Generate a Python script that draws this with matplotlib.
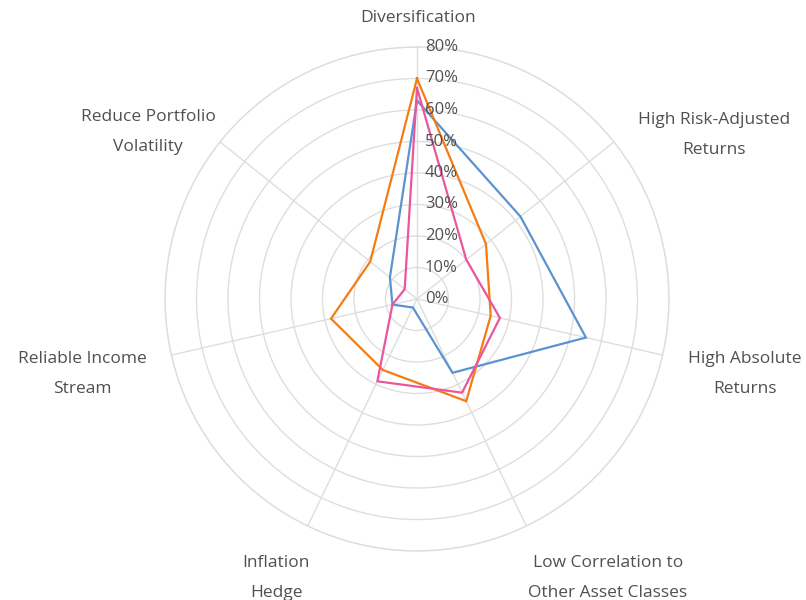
import numpy as np
import matplotlib
matplotlib.use("Agg")
import matplotlib.pyplot as plt
import matplotlib.transforms as mtransforms

categories = ["Diversification", "High Risk-Adjusted\nReturns", "High Absolute\nReturns",
              "Low Correlation to\nOther Asset Classes", "Inflation\nHedge",
              "Reliable Income\nStream", "Reduce Portfolio\nVolatility"]
series_blue = [63, 42, 55, 26, 3, 8, 11]
series_orange = [70, 28, 24, 36, 25, 28, 19]
series_pink = [67, 20, 27, 33, 29, 8, 5]
tick_values = [0, 10, 20, 30, 40, 50, 60, 70, 80]
tick_labels = [f"{v}%" for v in tick_values]

colors = {"blue": "#5b93d0", "orange": "#f57c12", "pink": "#e9569c"}
grid_color = "#dedede"
text_color = "#505050"
FONT = "Open Sans"

W, H = 806, 600
fig = plt.figure(figsize=(W / 100, H / 100), dpi=100)
cx, cy, R = 417, 299, 252
ax = fig.add_axes([(cx - R) / W, (H - cy - R) / H, 2 * R / W, 2 * R / H], projection="polar")
ax.set_theta_offset(np.pi / 2)
ax.set_theta_direction(-1)

n = len(categories)
angles = np.arange(n) * 2 * np.pi / n

ax.set_ylim(0, 80)
ax.set_yticks(tick_values[1:])
ax.set_yticklabels([])
ax.set_xticks(angles)
ax.set_xticklabels([])
ax.grid(True, color=grid_color, linewidth=1.0)
ax.spines["polar"].set_color(grid_color)
ax.spines["polar"].set_linewidth(1.0)
ax.tick_params(length=0)

closed = np.concatenate([angles, angles[:1]])
for vals, c in [(series_blue, colors["blue"]), (series_orange, colors["orange"]), (series_pink, colors["pink"])]:
    v = np.concatenate([vals, vals[:1]])
    ax.plot(closed, v, color=c, linewidth=1.6, solid_joinstyle="miter")

# radial tick labels along the top spoke
off = mtransforms.offset_copy(ax.transData, fig=fig, x=8, y=0, units="dots")
for v, lab in zip(tick_values, tick_labels):
    ax.text(0, v, lab, transform=off, ha="left", va="center", fontsize=12,
            family=FONT, color=text_color, clip_on=False)

# category labels (pixel centers of each line)
label_pos = [
    [(418, 18)],
    [(714, 120), (714, 150)],
    [(745, 359), (745, 389)],
    [(608, 563), (608, 593)],
    [(276, 563), (276, 593)],
    [(82, 359), (82, 389)],
    [(148, 117), (148, 147)],
]
for cat, pos in zip(categories, label_pos):
    for line, (x, y) in zip(cat.split("\n"), pos):
        fig.text(x / W, 1 - y / H, line, ha="center", va="center", fontsize=12.5,
                 family=FONT, color=text_color)

fig.savefig("out.png", dpi=100)
